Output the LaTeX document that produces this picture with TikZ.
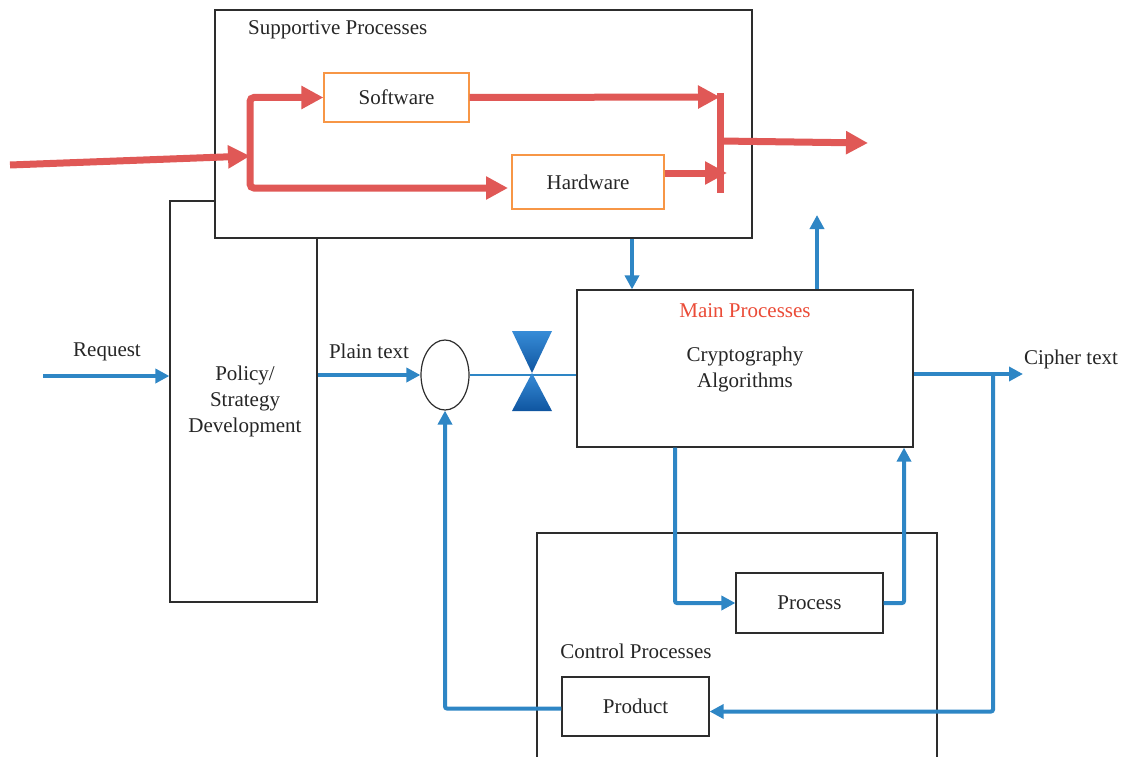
\documentclass[tikz,border=0pt]{standalone}
\usepackage{fontspec}
\setmainfont{Liberation Serif}
\usetikzlibrary{arrows.meta,shapes.geometric}
\definecolor{bl}{RGB}{46,134,197}
\definecolor{rd}{RGB}{224,88,86}
\definecolor{org}{RGB}{247,150,70}
\definecolor{mainred}{RGB}{235,75,55}
\definecolor{edge}{RGB}{45,45,45}
\definecolor{hgtop}{RGB}{55,140,215}
\definecolor{hgbot}{RGB}{15,85,160}
\tikzset{
  box/.style={draw=edge, line width=1.2pt, fill=white, inner sep=0pt},
  obox/.style={draw=org, line width=1.2pt, fill=white, inner sep=0pt},
  lbl/.style={inner sep=0pt, font=\fontsize{21}{26}\selectfont, text=black!85},
  redline/.style={draw=rd, line width=7pt, line cap=butt},
  redarrow/.style={redline, -{Triangle[length=22pt,width=22pt]}},
  bluearrow/.style={draw=bl, line width=4pt, rounded corners=2pt, -{Triangle[length=14pt,width=14pt]}},
  thinblue/.style={draw=bl, line width=1.2pt},
}
\begin{document}
\begin{tikzpicture}[x=1pt,y=-1pt]
\useasboundingbox (0,0) rectangle (1127,757);
% boxes
\node[box, minimum width=147, minimum height=401] (policy) at (243.5,401.5) {};
\node[lbl, align=center] (policytxt) at (245,401) {Policy/\\Strategy\\Development};
\node[box, minimum width=537, minimum height=228] (sup) at (483.5,124) {};
\node[lbl, anchor=west] (suptxt) at (248,30) {Supportive Processes};
\node[obox, minimum width=145, minimum height=49, lbl] (soft) at (396.5,97.5) {Software};
\node[obox, minimum width=152, minimum height=54, lbl] (hard) at (588,182) {Hardware};
% control processes (open at the bottom)
\draw[draw=edge, line width=1.2pt] (537,757) -- (537,533) -- (937,533) -- (937,757);
\node[lbl] (ctltxt) at (636,651) {Control Processes};
\node[box, minimum width=336, minimum height=157] (main) at (745,368.5) {};
\node[lbl, text=mainred] (maintxt) at (745,311) {Main Processes};
\node[lbl, align=center] (crypto) at (745,369) {Cryptography\\Algorithms};
\node[box, minimum width=147, minimum height=60, lbl] (process) at (809.5,603) {Process};
\node[box, minimum width=147, minimum height=59, lbl] (product) at (635.5,706.5) {Product};
\node[draw=edge, line width=1.2pt, ellipse, minimum width=48, minimum height=70, inner sep=0pt] (ell) at (445,375) {};
% labels
\node[lbl] (reqtxt) at (107,352) {Request};
\node[lbl] (plaintxt) at (369,351) {Plain text};
\node[lbl] (ciphertxt) at (1071,359) {Cipher text};
% thin line through valve
\draw[thinblue] (ell.east) -- (ell.east -| main.west);
% hourglass valve
\coordinate (hg) at (532,373);
\shade[top color=hgtop, bottom color=hgbot] (512,331) -- (552,331) -- (hg) -- cycle;
\shade[top color=hgtop, bottom color=hgbot] (hg) -- (552,411) -- (512,411) -- cycle;
% red flow
\coordinate (rin) at (10,165);
\coordinate (jm) at (250,156);
\coordinate (jb) at (250,188);
\coordinate (hin) at (508,188);
\coordinate (sout) at (720,97);
\coordinate (hout) at (727,173);
\coordinate (bartop) at (720,93);
\coordinate (barbot) at (720,193);
\coordinate (oin) at (720,141);
\coordinate (oend) at (868,143);
\draw[redarrow] (rin) -- (jm);
\draw[redline, rounded corners=4pt, {Triangle[length=22pt,width=22pt]}-{Triangle[length=22pt,width=22pt]}] (soft.west) -| (jb) -- (hin);
\draw[redarrow] (soft.east) -- (sout);
\draw[redarrow] (hard.east |- hout) -- (hout);
\draw[redline] (bartop) -- (barbot);
\draw[redarrow] (oin) -- (oend);
% blue flow
\coordinate (reqin) at (43,376);
\coordinate (c632) at (632,0);
\coordinate (upend) at (817,215);
\coordinate (cout) at (1023,374);
\coordinate (cj) at (993,374);
\coordinate (c675) at (675,0);
\coordinate (c904) at (904,0);
\draw[bluearrow] (reqin) -- (reqin -| policy.west);
\draw[bluearrow] (policy.east |- ell.west) -- (ell.west);
\draw[bluearrow] (sup.south -| c632) -- (main.north -| c632);
\draw[bluearrow] (main.north -| upend) -- (upend);
\draw[bluearrow] (main.east |- cout) -- (cout);
\draw[bluearrow] (cj) |- ([yshift=-5pt]product.east);
\draw[bluearrow] ([yshift=-2pt]product.west) -| (ell.south);
\draw[bluearrow] (main.south -| c675) |- (process.west);
\draw[bluearrow] (process.east) -| (c904 |- main.south);
\end{tikzpicture}
\end{document}
